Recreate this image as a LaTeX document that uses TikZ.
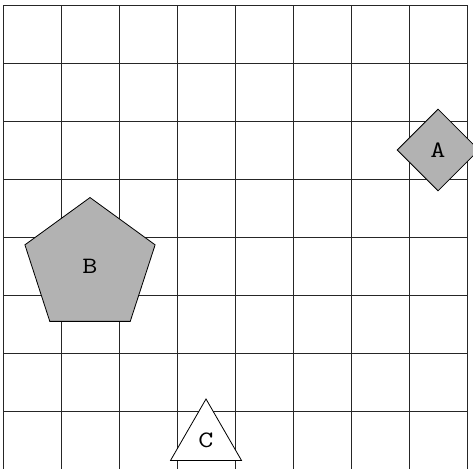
\documentclass[tikz,border=0pt]{standalone}
\usepackage{fontspec}
\setmonofont{Latin Modern Mono}[FakeStretch=1.25]
\usetikzlibrary{shapes.geometric}
\begin{document}
\begin{tikzpicture}[
    piece/.style={draw=black, font=\ttfamily\fontsize{11.5}{14}\selectfont,
                  inner sep=0pt},
    filled/.style={fill=black!30},
    board/.style={black!85, line width=0.4pt},
]
\useasboundingbox (-0.052, 0.017) rectangle (8.103, 8.086);

% --- Board ---
\draw[board] (0,0) grid (8,8);

% --- Pieces ---
\node[piece, filled, diamond, minimum width=1.414cm, minimum height=1.414cm]
    (a) at (7.5, 5.5) {A};
\node[piece, filled, regular polygon, regular polygon sides=5,
      minimum size=2.36cm]
    (b) at (1.5, 3.5) {B};
\node[piece, fill=white, regular polygon, regular polygon sides=3,
      minimum size=1.414cm]
    (c) at (3.5, 0.5) {C};

\end{tikzpicture}
\end{document}
